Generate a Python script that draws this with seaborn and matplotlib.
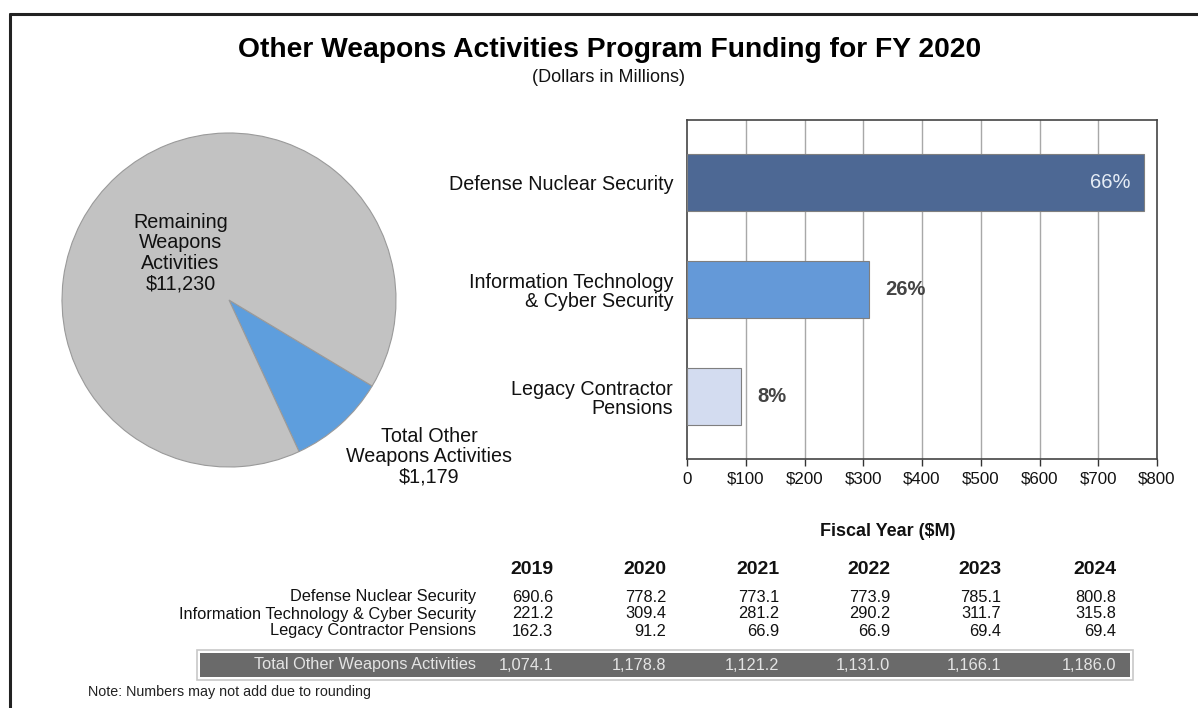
import matplotlib
matplotlib.use("Agg")
import matplotlib.pyplot as plt
import seaborn as sns
import pandas as pd
from matplotlib.patches import Rectangle
from matplotlib.lines import Line2D

# ---------------- data ----------------
pie_labels = ["Total Other\nWeapons Activities\n$1,179", "Remaining\nWeapons\nActivities\n$11,230"]
pie_values = [1179, 11230]

bar_categories = ["Defense Nuclear Security",
                  "Information Technology\n& Cyber Security",
                  "Legacy Contractor\nPensions"]
bar_values_2020 = [778.2, 309.4, 91.2]

years = ["2019", "2020", "2021", "2022", "2023", "2024"]
row_labels = ["Defense Nuclear Security",
              "Information Technology & Cyber Security",
              "Legacy Contractor Pensions"]
dns = ["690.6", "778.2", "773.1", "773.9", "785.1", "800.8"]
itcs = ["221.2", "309.4", "281.2", "290.2", "311.7", "315.8"]
lcp = ["162.3", "91.2", "66.9", "66.9", "69.4", "69.4"]
total_label = "Total Other Weapons Activities"
totals = ["1,074.1", "1,178.8", "1,121.2", "1,131.0", "1,166.1", "1,186.0"]

xticks = [0, 100, 200, 300, 400, 500, 600, 700, 800]
xtick_labels = ["0", "$100", "$200", "$300", "$400", "$500", "$600", "$700", "$800"]

# ---------------- style ----------------
sns.set_theme(style="white")
plt.rcParams["font.family"] = ["Liberation Sans", "DejaVu Sans"]

W, H = 1198, 708
fig = plt.figure(figsize=(W / 100, H / 100), dpi=100)
fig.patch.set_facecolor("white")


def fx(x):
    return x / W


def fy(y):
    return 1 - y / H


# frame lines (top and left)
fig.add_artist(Line2D([fx(10), fx(1198)], [fy(14), fy(14)], color="#222222", lw=2.2))
fig.add_artist(Line2D([fx(10), fx(10)], [fy(14), fy(708)], color="#222222", lw=2.2))

# titles
fig.text(fx(610), fy(50), "Other Weapons Activities Program Funding for FY 2020",
         ha="center", va="center", fontsize=20.3, fontweight="bold", color="#000000")
fig.text(fx(609), fy(78), "(Dollars in Millions)", ha="center", va="center",
         fontsize=13, color="#111111")

# ---------------- pie ----------------
cx, cy, r = 229, 300, 167
ax_pie = fig.add_axes([fx(cx - r), fy(cy + r), (2 * r) / W, (2 * r) / H])
ax_pie.pie(pie_values, colors=["#5E9EDD", "#C2C2C2"], startangle=-31,
           counterclock=False, radius=1,
           wedgeprops=dict(edgecolor="#9a9a9a", linewidth=0.8))
ax_pie.set_xlim(-1.0, 1.0)
ax_pie.set_ylim(-1.0, 1.0)
ax_pie.set_aspect("auto")
ax_pie.axis("off")
ax_pie.text(-0.29, 0.28, pie_labels[1], ha="center", va="center", fontsize=14.2,
            color="#111111", linespacing=1.1, clip_on=False)
ax_pie.text(1.2, -0.94, pie_labels[0], ha="center", va="center", fontsize=14.2,
            color="#111111", linespacing=1.1, clip_on=False)

# ---------------- bar chart ----------------
bx0, bx1, by0, by1 = 687, 1157, 120, 459
ax_bar = fig.add_axes([fx(bx0), fy(by1), (bx1 - bx0) / W, (by1 - by0) / H])
df = pd.DataFrame({"category": bar_categories, "value": bar_values_2020})
bar_colors = ["#4D6894", "#6499D8", "#D3DCF0"]
sns.barplot(data=df, x="value", y="category", hue="category", palette=bar_colors,
            orient="h", width=0.53, ax=ax_bar, legend=False, saturation=1,
            edgecolor="#7f7f7f", linewidth=0.8, zorder=3)
ax_bar.set_xlim(0, 800)
ax_bar.set_ylim(2.58, -0.58)
ax_bar.set_xticks(xticks)
ax_bar.set_xticklabels(xtick_labels, fontsize=12.2, color="#111111")
ax_bar.tick_params(axis="x", length=5, width=1, color="#333333", pad=4, bottom=True)
ax_bar.tick_params(axis="y", length=0, pad=10)
ax_bar.set_yticks(range(len(bar_categories)))
ax_bar.set_yticklabels(bar_categories, fontsize=14.2, color="#111111", linespacing=1.0)
ax_bar.set_xlabel("")
ax_bar.set_ylabel("")
for x in xticks[1:-1]:
    ax_bar.axvline(x, color="#a8a8a8", lw=1.0, zorder=1)
for s in ax_bar.spines.values():
    s.set_color("#444444")
    s.set_linewidth(1.2)

total_2020 = sum(bar_values_2020)
for i, v in enumerate(bar_values_2020):
    pct = f"{round(100 * v / total_2020):.0f}%"
    if i == 0:
        ax_bar.annotate(pct, (v, i), xytext=(-10, 0), textcoords="offset points",
                        ha="right", va="center", fontsize=14.5, color="#E6EDF6", zorder=4)
    else:
        ax_bar.annotate(pct, (v, i), xytext=(12, 0), textcoords="offset points",
                        ha="left", va="center", fontsize=14.5, color="#444444",
                        fontweight="bold", zorder=4)

fig.text(fx(888), fy(531), "Fiscal Year ($M)", ha="center", va="center",
         fontsize=13, fontweight="bold", color="#111111")

# ---------------- table ----------------
col_x = [532, 645, 758, 869, 980, 1095]
for x, yr in zip(col_x, years):
    fig.text(fx(x), fy(570), yr, ha="center", va="center", fontsize=14,
             fontweight="bold", color="#111111")

rows = [dns, itcs, lcp]
row_y = [597, 614, 631]
val_fs = 11.8
for lab, vals, y in zip(row_labels, rows, row_y):
    fig.text(fx(476), fy(y), lab, ha="right", va="center", fontsize=val_fs, color="#111111")
    for x, v in zip(col_x, vals):
        fig.text(fx(x + 21), fy(y), v, ha="right", va="center", fontsize=val_fs,
                 color="#111111")

# total band
fig.add_artist(Rectangle((fx(197), fy(680)), (1133 - 197) / W, (680 - 650) / H,
                         transform=fig.transFigure, facecolor="white",
                         edgecolor="#c8c8c8", linewidth=1.2))
fig.add_artist(Rectangle((fx(200), fy(677)), (1130 - 200) / W, (677 - 653) / H,
                         transform=fig.transFigure, facecolor="#6A6A6A",
                         edgecolor="none"))
fig.text(fx(476), fy(665), total_label, ha="right", va="center", fontsize=val_fs,
         color="#E4E4E4")
for x, v in zip(col_x, totals):
    fig.text(fx(x + 21), fy(665), v, ha="right", va="center", fontsize=val_fs,
             color="#E4E4E4")

fig.text(fx(88), fy(692), "Note: Numbers may not add due to rounding", ha="left",
         va="center", fontsize=10.3, color="#222222")

fig.savefig("out.png", dpi=100, facecolor="white")
